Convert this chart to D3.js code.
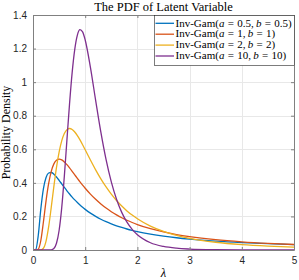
<!DOCTYPE html>
<html>
<head>
<meta charset="utf-8">
<script src="https://cdn.jsdelivr.net/npm/d3@7"></script>
<style>
  html, body { margin: 0; padding: 0; background: #fff; }
  svg { display: block; }
  .tick text { font-family: "Liberation Sans", Arial, sans-serif; font-size: 10px; fill: #262626; }
  .serif { font-family: "Liberation Serif", "Times New Roman", serif; fill: #000; }
</style>
</head>
<body>
<svg id="chart" width="299" height="280"></svg>
<script>
// ── Data ─────────────────────────────────────────────────────────────────────
const lam = [0, 0.05, 0.1, 0.15, 0.2, 0.25, 0.3, 0.35, 0.4, 0.45, 0.5, 0.55, 0.6, 0.65, 0.7, 0.75,
  0.8, 0.85, 0.9, 0.95, 1.0, 1.1, 1.2, 1.3, 1.4, 1.5, 1.6, 1.7, 1.8, 1.9, 2.0, 2.25, 2.5, 2.75,
  3.0, 3.5, 4.0, 4.5, 5.0];

const pdfA = [0, 0.0016, 0.0850, 0.2450, 0.3661, 0.4319, 0.4586, 0.4617, 0.4518, 0.4351, 0.4151,
  0.3940, 0.3731, 0.3527, 0.3335, 0.3153, 0.2984, 0.2827, 0.2681, 0.2545, 0.2420, 0.2195, 0.2001,
  0.1832, 0.1685, 0.1556, 0.1442, 0.1341, 0.1251, 0.1171, 0.1098, 0.0947, 0.0826, 0.0729, 0.0650,
  0.0528, 0.0440, 0.0374, 0.0323];

const pdfB = [0, 0, 0.0045, 0.0566, 0.1684, 0.2930, 0.3964, 0.4688, 0.5130, 0.5352, 0.5413,
  0.5366, 0.5247, 0.5082, 0.4891, 0.4686, 0.4477, 0.4268, 0.4064, 0.3867, 0.3679, 0.3330, 0.3018,
  0.2742, 0.2498, 0.2282, 0.2091, 0.1921, 0.1771, 0.1637, 0.1516, 0.1267, 0.1073, 0.0919, 0.0796,
  0.0613, 0.0487, 0.0395, 0.0327];

const pdfC = [0, 0, 0, 0.0005, 0.0104, 0.0528, 0.1387, 0.2550, 0.3789, 0.4917, 0.5832,
  0.6502, 0.6937, 0.7170, 0.7238, 0.7181, 0.7031, 0.6816, 0.6557, 0.6271, 0.5970, 0.5360, 0.4775,
  0.4237, 0.3754, 0.3325, 0.2948, 0.2618, 0.2330, 0.2079, 0.1859, 0.1422, 0.1104, 0.0871, 0.0696,
  0.0462, 0.0319, 0.0229, 0.0168];

const pdfD = [0, 0, 0, 0, 0, 0, 0.0001, 0.0011, 0.0091, 0.0402, 0.1163,
  0.2512, 0.4389, 0.6558, 0.8708, 1.0567, 1.1956, 1.2802, 1.3124, 1.2994, 1.2511, 1.0884, 0.8915,
  0.7017, 0.5379, 0.4054, 0.3024, 0.2242, 0.1657, 0.1225, 0.0907, 0.0433, 0.0212, 0.0107, 0.0056,
  0.0016, 0.0005, 0.0002, 0.0001];

const series = [
  { a: '0.5', b: '0.5', vals: pdfA, color: '#0072BD' },
  { a: '1',   b: '1',   vals: pdfB, color: '#D95319' },
  { a: '2',   b: '2',   vals: pdfC, color: '#EDB120' },
  { a: '10',  b: '10',  vals: pdfD, color: '#7E2F8E' }
];

const xTicks = [0, 1, 2, 3, 4, 5];
const yTicks = [0, 0.2, 0.4, 0.6, 0.8, 1, 1.2, 1.4];

// ── Layout ───────────────────────────────────────────────────────────────────
const M = { l: 33, r: 5, t: 15, b: 30 };
const W = 299 - M.l - M.r;
const H = 280 - M.t - M.b;

const svg = d3.select('#chart');
const g = svg.append('g').attr('transform', `translate(${M.l},${M.t})`);

const x = d3.scaleLinear().domain([0, 5]).range([0, W]);
const y = d3.scaleLinear().domain([0, 1.4]).range([H, 0]);

// grid
g.append('g').selectAll('line').data(xTicks.slice(1, -1)).join('line')
  .attr('x1', d => Math.round(x(d)) + 0.5).attr('x2', d => Math.round(x(d)) + 0.5)
  .attr('y1', 0).attr('y2', H).attr('stroke', '#e8e8e8');
g.append('g').selectAll('line').data(yTicks.slice(1, -1)).join('line')
  .attr('y1', d => Math.round(y(d)) + 0.5).attr('y2', d => Math.round(y(d)) + 0.5)
  .attr('x1', 0).attr('x2', W).attr('stroke', '#e8e8e8');

// curves
g.append('clipPath').attr('id', 'clip').append('rect').attr('width', W).attr('height', H);
const line = d3.line()
  .x((d, i) => x(lam[i]))
  .y(d => y(d))
  .curve(d3.curveMonotoneX);

g.append('g').attr('clip-path', 'url(#clip)').selectAll('path').data(series).join('path')
  .attr('d', s => line(s.vals))
  .attr('fill', 'none')
  .attr('stroke', s => s.color)
  .attr('stroke-width', 1.3);

// axes (ticks inward on all four sides)
const axCol = '#808080';
function styleAxis(sel, keepText) {
  sel.select('.domain').attr('stroke', axCol);
  sel.selectAll('.tick line').attr('stroke', axCol);
  if (!keepText) sel.selectAll('.tick text').remove();
}
g.append('g').attr('transform', `translate(0,${H})`)
  .call(d3.axisBottom(x).tickValues(xTicks).tickFormat(d3.format('d')).tickSizeInner(-3).tickSizeOuter(0).tickPadding(7))
  .call(s => styleAxis(s, true));
g.append('g')
  .call(d3.axisLeft(y).tickValues(yTicks).tickFormat(d => d3.format('~g')(d)).tickSizeInner(-3).tickSizeOuter(0).tickPadding(6))
  .call(s => styleAxis(s, true));
g.append('g')
  .call(d3.axisTop(x).tickValues(xTicks).tickSizeInner(-3).tickSizeOuter(0))
  .call(s => styleAxis(s, false));
g.append('g').attr('transform', `translate(${W},0)`)
  .call(d3.axisRight(y).tickValues(yTicks).tickSizeInner(-3).tickSizeOuter(0))
  .call(s => styleAxis(s, false));

// title and axis labels
svg.append('text').attr('class', 'serif')
  .attr('x', M.l + W / 2).attr('y', 10.5).attr('text-anchor', 'middle')
  .attr('font-size', 12.5).text('The PDF of Latent Variable');

svg.append('text').attr('class', 'serif')
  .attr('x', M.l + W / 2).attr('y', 277).attr('text-anchor', 'middle')
  .attr('font-size', 12.5).attr('font-style', 'italic').text('λ');

svg.append('text').attr('class', 'serif')
  .attr('transform', `translate(9.5,${M.t + H / 2}) rotate(-90)`)
  .attr('text-anchor', 'middle').attr('font-size', 12).text('Probability Density');

// legend
const lg = svg.append('g');
lg.append('rect').attr('x', 154.5).attr('y', 15.5).attr('width', 140).attr('height', 50)
  .attr('fill', '#fff').attr('stroke', '#262626').attr('stroke-width', 0.6);
const rows = lg.selectAll('g.row').data(series).join('g').attr('class', 'row')
  .attr('transform', (d, i) => `translate(0,${23.3 + i * 10.9})`);
rows.append('line').attr('x1', 155.5).attr('x2', 174).attr('y1', 0).attr('y2', 0)
  .attr('stroke', d => d.color).attr('stroke-width', 1.3);
const t = rows.append('text').attr('class', 'serif').attr('x', 175.5).attr('y', 3.2).attr('font-size', 11);
t.append('tspan').text('Inv-Gam(');
t.append('tspan').attr('font-style', 'italic').text('a');
t.append('tspan').attr('dx', 3.3).text('=');
t.append('tspan').attr('dx', 3.3).text(d => `${d.a},`);
t.append('tspan').attr('dx', 2.2).attr('font-style', 'italic').text('b');
t.append('tspan').attr('dx', 3.3).text('=');
t.append('tspan').attr('dx', 3.3).text(d => `${d.b})`);
</script>
</body>
</html>
